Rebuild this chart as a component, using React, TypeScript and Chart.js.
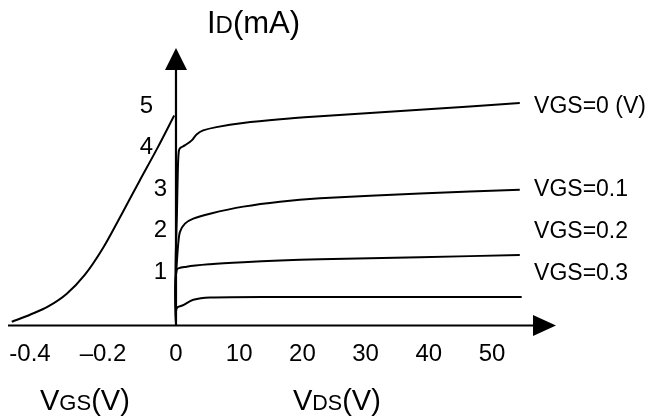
import React, { useEffect, useRef } from "react";
import { Chart, registerables } from "chart.js";

Chart.register(...registerables);

// ---- data ----
const VDS_TICKS = [0, 10, 20, 30, 40, 50];
const VGS_TICKS = [-0.4, -0.2];
const VGS_TICK_LABELS = ["-0.4", "\u20130.2"];
const ID_TICKS = [1, 2, 3, 4, 5];

// transfer characteristic (VGS -> ID)
const TRANSFER_VGS = [-0.45, -0.4, -0.35, -0.3, -0.25, -0.2, -0.15, -0.1, -0.05, -0.005];
const TRANSFER_ID = [-0.2, -0.03, 0.17, 0.47, 0.93, 1.58, 2.38, 3.2, 4.01, 4.78];

// output characteristics (VDS -> ID)
const VDS_0 = [0, -0.08, -0.05, 0.15, 0.3, 0.45, 0.7, 1.4, 2.5, 3.3, 4.3, 6.4, 10.6, 16.5, 22.8, 38.6, 54.4];
const ID_0 = [-0.25, 0.3, 1.3, 2.4, 3.5, 3.92, 4.0, 4.06, 4.18, 4.33, 4.42, 4.5, 4.6, 4.69, 4.76, 4.92, 5.08];

const VDS_1 = [0, -0.1, 0.16, 0.36, 0.63, 1.42, 2.74, 5.38, 10.65, 16.46, 22.8, 38.6, 54.4];
const ID_1 = [-0.25, 0.6, 1.29, 1.69, 1.97, 2.17, 2.29, 2.41, 2.58, 2.7, 2.78, 2.9, 2.99];

const VDS_2 = [0, 0.1, 1.69, 5.38, 10.65, 16.46, 22.8, 38.6, 54.4];
const ID_2 = [-0.25, 1.05, 1.13, 1.19, 1.24, 1.28, 1.31, 1.36, 1.41];

const VDS_3 = [0, 0.1, 1.15, 2.74, 5.38, 16.46, 22.8, 38.6, 54.7];
const ID_3 = [-0.25, 0.125, 0.2, 0.33, 0.385, 0.4, 0.4, 0.4, 0.4];

const CURVE_LABELS = ["VGS=0 (V)", "VGS=0.1", "VGS=0.2", "VGS=0.3"];
const CURVE_LABEL_ID = [4.99, 2.99, 1.98, 0.96];
const CURVE_LABEL_VDS = 56.5;

const FONT = '"Liberation Sans", Arial, sans-serif';

const zip = (xs: number[], ys: number[]) => xs.map((v, i) => ({ x: v, y: ys[i] }));

function drawRich(ctx: CanvasRenderingContext2D, x: number, y: number, parts: [string, number][]) {
  let cx = x;
  ctx.textAlign = "left";
  ctx.textBaseline = "alphabetic";
  for (const [t, size] of parts) {
    ctx.font = `${size}px ${FONT}`;
    ctx.fillText(t, cx, y);
    cx += ctx.measureText(t).width;
  }
}

const decorPlugin = {
  id: "decor",
  afterDraw(chart: any) {
    const ctx: CanvasRenderingContext2D = chart.ctx;
    const xs = chart.scales.x;
    const xg = chart.scales.xg;
    const ys = chart.scales.y;
    const ca = chart.chartArea;
    const x0 = xs.getPixelForValue(0);
    const y0 = ys.getPixelForValue(ys.min);
    ctx.save();
    ctx.strokeStyle = "#000";
    ctx.fillStyle = "#000";
    ctx.lineWidth = 2.2;
    // horizontal axis
    ctx.beginPath();
    ctx.moveTo(ca.left, y0);
    ctx.lineTo(ca.right - 20, y0);
    ctx.stroke();
    ctx.beginPath();
    ctx.moveTo(ca.right - 23, y0 - 10.5);
    ctx.lineTo(ca.right, y0);
    ctx.lineTo(ca.right - 23, y0 + 10.5);
    ctx.closePath();
    ctx.fill();
    // vertical axis
    ctx.beginPath();
    ctx.moveTo(x0, y0);
    ctx.lineTo(x0, ca.top + 20);
    ctx.stroke();
    ctx.beginPath();
    ctx.moveTo(x0 - 11, ca.top + 22);
    ctx.lineTo(x0, ca.top);
    ctx.lineTo(x0 + 11, ca.top + 22);
    ctx.closePath();
    ctx.fill();

    // x tick labels
    ctx.font = `24px ${FONT}`;
    ctx.textAlign = "center";
    ctx.textBaseline = "middle";
    VDS_TICKS.forEach((v) => ctx.fillText(String(v), xs.getPixelForValue(v), y0 + 29));
    VGS_TICKS.forEach((v, i) => ctx.fillText(VGS_TICK_LABELS[i], xg.getPixelForValue(v), y0 + 29));

    // y tick labels
    ctx.font = `24px ${FONT}`;
    ctx.textAlign = "right";
    ID_TICKS.forEach((v) => {
      const off = v >= 4 ? 23 : 9;
      ctx.fillText(String(v), x0 - off, ys.getPixelForValue(v));
    });

    // curve labels
    ctx.font = `23px ${FONT}`;
    ctx.textAlign = "left";
    CURVE_LABELS.forEach((t, i) => {
      ctx.fillText(t, xs.getPixelForValue(CURVE_LABEL_VDS) + 1, ys.getPixelForValue(CURVE_LABEL_ID[i]));
    });

    // axis titles
    drawRich(ctx, x0 + 31, ca.top - 15, [["I", 31], ["D", 24], ["(mA)", 31]]);
    drawRich(ctx, 40, y0 + 84, [["V", 29], ["GS", 22], ["(V)", 29]]);
    drawRich(ctx, 293, y0 + 84, [["V", 29], ["DS", 21.5], ["(V)", 29]]);
    ctx.restore();
  },
};

export default function App() {
  const ref = useRef<HTMLCanvasElement>(null);
  useEffect(() => {
    if (!ref.current) return;
    const line = (data: { x: number; y: number }[], axis: string, monotone = false) => ({
      data,
      xAxisID: axis,
      yAxisID: "y",
      borderColor: "#000",
      borderWidth: 2,
      pointRadius: 0,
      fill: false,
      tension: 0.3,
      cubicInterpolationMode: monotone ? "monotone" : "default",
    });
    const chart = new Chart(ref.current, {
      type: "line",
      data: {
        datasets: [
          line(zip(TRANSFER_VGS, TRANSFER_ID), "xg", true),
          line(zip(VDS_0, ID_0), "x"),
          line(zip(VDS_1, ID_1), "x"),
          line(zip(VDS_2, ID_2), "x"),
          line(zip(VDS_3, ID_3), "x"),
        ] as any,
      },
      options: {
        animation: false,
        responsive: true,
        maintainAspectRatio: false,
        layout: { padding: { left: 8, right: 97, top: 48, bottom: 94.5 } },
        plugins: { legend: { display: false }, tooltip: { enabled: false } },
        scales: {
          x: { type: "linear", display: false, min: -26.58, max: 60.13 },
          xg: { type: "linear", display: false, min: -0.4603, max: 1.041 },
          y: { type: "linear", display: false, min: -0.29, max: 6.41 },
        },
      },
      plugins: [decorPlugin],
    });
    return () => chart.destroy();
  }, []);
  return (
    <div style={{ position: "absolute", left: 0, top: 0, width: 653, height: 420, background: "#fff" }}>
      <canvas ref={ref} />
    </div>
  );
}
